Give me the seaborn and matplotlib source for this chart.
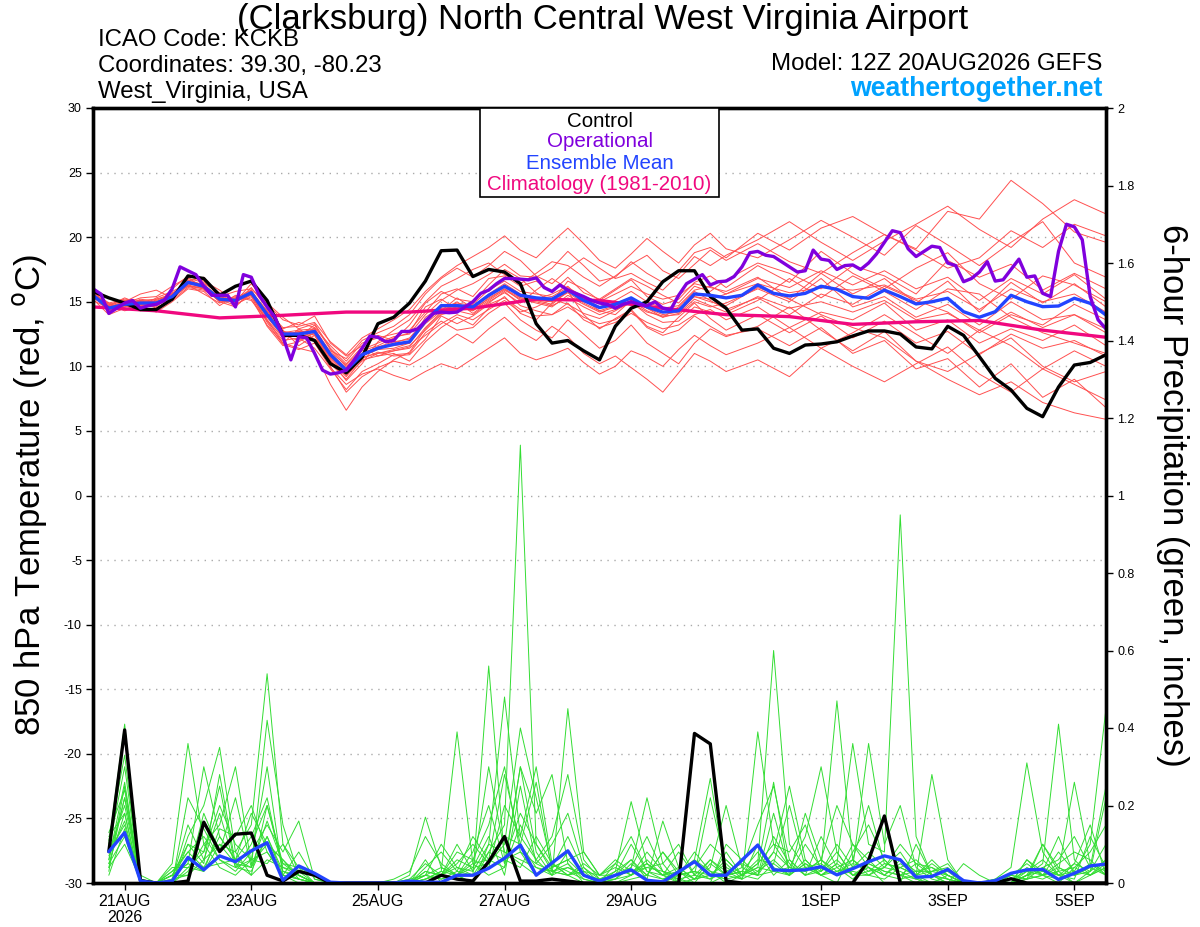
import numpy as np
import pandas as pd
import seaborn as sns
import matplotlib.pyplot as plt
from matplotlib.patches import Rectangle

# forecast hours from 12Z 20AUG2026
hours_6h = list(range(0, 385, 6))
hours_3h = list(range(0, 385, 3))
member_hours = list(range(0, 241, 6)) + list(range(252, 385, 12))
precip_hours = list(range(6, 385, 6))
clim_hours = list(range(0, 385, 24))

tick_hours = [12, 60, 108, 156, 204, 276, 324, 372]
tick_labels = ['21AUG\n2026', '23AUG', '25AUG', '27AUG', '29AUG', '1SEP', '3SEP', '5SEP']

# 850 hPa temperature (C)
control_t = [15.8, 15.3, 14.9, 14.4, 14.4, 15.2, 17.0, 16.8, 15.5, 16.2, 16.6, 15.1, 12.4, 12.4, 12.0, 10.2,
             9.5, 10.7, 13.3, 13.8, 14.9, 16.6, 18.95, 19.0, 16.95, 17.5, 17.3, 16.4, 13.3, 11.8, 12.0, 11.2,
             10.5, 13.1, 14.5, 15.0, 16.55, 17.4, 17.4, 15.4, 14.5, 12.8, 12.9, 11.4, 11.0, 11.65, 11.73, 11.9,
             12.35, 12.74, 12.74, 12.5, 11.5, 11.35, 13.1, 12.4, 10.75, 9.07, 8.17, 6.75, 6.1, 8.4, 10.1, 10.3, 10.9]
mean_t = [15.5, 14.5, 14.8, 14.9, 14.9, 15.4, 16.5, 16.2, 15.2, 15.1, 15.7, 14.0, 12.5, 12.5, 12.7, 10.9,
          9.7, 10.9, 11.4, 11.7, 11.9, 13.5, 14.7, 14.7, 14.6, 15.5, 16.2, 15.5, 15.3, 15.2, 15.9, 15.1,
          14.55, 14.8, 15.3, 14.6, 14.2, 14.3, 15.6, 15.5, 15.3, 15.5, 16.3, 15.65, 15.45, 15.65, 16.2, 15.96,
          15.4, 15.27, 15.9, 15.4, 14.83, 15.0, 15.27, 14.23, 13.8, 14.23, 15.5, 15.0, 14.62, 14.67, 15.27, 14.88, 13.97]
oper_t = [16.0, 15.6, 14.1, 14.5, 14.9, 15.1, 14.5, 14.7, 14.8, 15.1, 16.0, 17.7, 17.4, 17.1, 16.2, 15.5,
          15.5, 15.5, 14.6, 17.1, 16.9, 15.5, 14.6, 13.8, 12.3, 10.5, 12.3, 12.2, 11.0, 9.7, 9.4, 9.5,
          9.7, 10.5, 11.4, 12.35, 12.25, 11.9, 12.0, 12.7, 12.7, 12.9, 13.5, 14.1, 14.2, 14.15, 14.2, 14.6,
          15.0, 15.65, 15.9, 16.4, 16.8, 16.8, 16.75, 16.7, 16.85, 16.1, 15.8, 16.3, 15.9, 15.65, 15.4, 15.1,
          14.9, 14.8, 14.5, 14.8, 15.0, 14.8, 14.7, 15.0, 14.5, 14.4, 15.5, 16.4, 16.75, 17.1, 16.3, 16.55,
          16.6, 16.95, 17.7, 18.8, 18.9, 18.6, 18.5, 18.1, 17.7, 17.3, 17.4, 19.0, 18.3, 18.2, 17.5, 17.8,
          17.85, 17.5, 18.0, 18.7, 19.6, 20.5, 20.35, 19.1, 18.5, 18.9, 19.3, 19.2, 18.0, 17.8, 16.55, 16.8,
          17.3, 18.1, 16.6, 16.7, 17.5, 18.3, 16.9, 17.0, 15.65, 15.4, 18.9, 21.0, 20.8, 19.8, 15.4, 13.6, 12.9]
clim_t = [14.6, 14.3, 13.75, 13.95, 14.2, 14.2, 14.5, 15.2, 15.1, 14.5, 14.0, 13.85, 13.25, 13.45, 13.55, 12.8, 12.25]

temp_members = [
    [15.6, 14.2, 15.0, 15.6, 15.9, 15.3, 16.8, 16.5, 15.6, 14.9, 16.1, 14.5, 12.8, 11.6, 12.4, 10.5, 8.9, 10.2, 11.9, 12.8, 13.6,
     15.0, 16.2, 16.8, 17.5, 18.0, 17.1, 16.4, 17.2, 18.1, 17.8, 16.9, 16.2, 17.0, 17.9, 18.6, 17.4, 16.8, 17.9, 19.0, 18.2,
     19.5, 18.1, 17.2, 18.8, 20.2, 19.0, 17.6, 18.4, 20.5, 19.2, 21.0, 20.1],
    [15.4, 14.8, 14.3, 14.6, 14.2, 15.0, 16.0, 15.8, 14.7, 15.5, 15.2, 13.2, 11.8, 12.9, 13.3, 11.4, 10.2, 11.5, 10.8, 11.0, 10.4,
     11.9, 13.0, 13.8, 13.2, 14.5, 15.4, 14.1, 13.6, 14.9, 15.8, 14.0, 12.9, 13.7, 14.4, 13.1, 12.6, 13.8, 14.9, 13.7, 12.8,
     14.0, 12.6, 13.9, 12.2, 13.5, 11.8, 12.7, 10.9, 12.5, 11.4, 12.0, 10.8],
    [15.8, 14.9, 15.2, 15.1, 14.7, 16.0, 17.0, 16.6, 15.9, 15.0, 16.4, 14.8, 13.6, 13.2, 13.9, 11.8, 10.8, 11.6, 12.4, 12.0, 13.2,
     14.9, 15.8, 15.2, 15.0, 16.3, 17.5, 16.8, 15.7, 15.0, 16.6, 16.0, 15.1, 15.9, 16.7, 15.4, 14.8, 15.2, 16.5, 17.0, 16.1,
     17.8, 16.5, 18.9, 17.2, 16.0, 17.6, 18.8, 16.4, 15.2, 17.0, 16.3, 15.0],
    [15.2, 14.0, 14.5, 14.3, 15.2, 15.6, 16.3, 15.6, 14.9, 15.3, 15.5, 13.5, 12.0, 12.2, 11.4, 9.8, 8.2, 9.6, 10.2, 10.9, 11.0,
     12.6, 13.5, 12.8, 13.0, 14.1, 14.9, 13.6, 12.8, 12.2, 13.6, 12.5, 11.4, 12.0, 13.2, 11.8, 11.0, 10.2, 11.8, 12.9, 12.3,
     13.1, 14.6, 12.8, 11.2, 12.7, 10.4, 9.6, 11.0, 12.2, 10.0, 8.8, 9.6],
    [15.5, 14.6, 14.9, 15.3, 15.4, 16.2, 16.9, 16.0, 15.4, 15.8, 16.0, 14.9, 13.8, 12.9, 12.1, 11.2, 10.6, 12.0, 12.6, 13.1, 14.0,
     15.6, 16.8, 17.6, 16.9, 17.8, 18.9, 18.2, 17.0, 16.4, 17.5, 18.4, 17.6, 16.8, 17.2, 16.5, 15.9, 17.1, 18.5, 17.8, 18.6,
     19.8, 21.2, 19.6, 18.2, 19.7, 21.0, 22.4, 20.6, 19.2, 21.4, 22.9, 21.8],
    [15.9, 14.4, 14.7, 15.0, 14.5, 15.2, 16.6, 16.9, 15.5, 14.8, 15.4, 13.1, 11.6, 11.9, 12.6, 10.2, 9.0, 10.5, 10.8, 11.2, 11.5,
     13.0, 14.2, 15.0, 14.1, 15.0, 15.7, 14.9, 15.9, 16.8, 16.0, 15.2, 14.3, 14.0, 15.1, 14.5, 13.8, 14.6, 15.8, 15.1, 14.4,
     15.3, 14.0, 15.6, 14.8, 16.2, 15.1, 14.2, 12.6, 14.0, 13.2, 14.8, 13.6],
    [15.3, 14.7, 15.3, 14.8, 14.6, 15.7, 16.2, 16.1, 15.0, 14.6, 15.8, 14.2, 12.4, 12.0, 13.0, 10.0, 8.0, 9.2, 9.9, 10.4, 10.1,
     10.8, 11.6, 12.5, 11.8, 12.9, 13.8, 12.7, 12.0, 13.1, 12.3, 11.0, 10.2, 10.8, 9.9, 9.0, 8.0, 9.5, 11.0, 10.4, 9.6,
     10.5, 9.2, 11.4, 10.0, 8.8, 10.2, 11.5, 9.4, 8.0, 9.8, 8.6, 7.4],
    [15.7, 14.3, 14.6, 15.2, 15.0, 15.5, 16.7, 16.3, 15.3, 15.2, 15.6, 14.1, 12.9, 13.4, 13.0, 11.6, 10.4, 11.8, 12.2, 12.5, 12.8,
     14.2, 15.6, 16.0, 15.4, 16.8, 17.0, 16.2, 16.6, 15.8, 16.9, 15.7, 15.2, 16.0, 16.8, 16.2, 15.5, 14.9, 16.2, 15.8, 16.7,
     18.0, 17.2, 16.0, 17.8, 17.0, 15.6, 18.2, 16.9, 17.9, 15.9, 17.2, 16.0],
    [15.1, 14.5, 14.9, 14.4, 14.9, 15.1, 16.1, 15.9, 15.1, 15.4, 15.1, 13.6, 12.2, 12.6, 12.0, 10.8, 9.6, 10.6, 11.1, 10.8, 10.9,
     12.1, 13.9, 13.3, 13.9, 14.8, 15.3, 14.4, 13.9, 14.0, 14.9, 13.6, 13.0, 13.4, 14.1, 13.4, 12.9, 13.2, 14.0, 14.4, 13.6,
     14.6, 13.0, 14.2, 13.6, 14.9, 12.8, 13.6, 11.8, 12.9, 12.0, 13.2, 11.6],
    [15.6, 14.7, 15.1, 14.6, 15.3, 15.8, 16.4, 16.4, 15.7, 15.0, 15.9, 14.0, 12.6, 12.8, 12.9, 11.0, 9.9, 11.2, 11.6, 12.2, 12.6,
     14.6, 15.2, 14.4, 14.8, 15.9, 16.6, 15.8, 15.6, 15.4, 16.1, 15.4, 15.0, 15.6, 16.2, 15.6, 15.2, 15.5, 16.4, 16.1, 15.8,
     16.9, 15.2, 17.2, 15.6, 16.8, 14.9, 16.6, 14.2, 16.5, 14.9, 16.4, 14.6],
    [15.4, 14.9, 14.4, 14.9, 15.1, 15.6, 16.6, 16.0, 15.2, 14.7, 15.6, 13.8, 12.3, 12.7, 12.4, 10.4, 9.2, 10.8, 11.3, 11.4, 11.8,
     13.3, 14.3, 15.3, 14.5, 15.2, 16.0, 15.1, 15.0, 14.7, 15.3, 14.6, 14.0, 14.4, 14.9, 14.2, 13.9, 14.0, 15.0, 14.6, 14.9,
     16.0, 15.0, 16.8, 14.6, 15.4, 13.8, 14.8, 13.2, 15.0, 13.6, 14.0, 12.9],
    [15.8, 14.6, 15.0, 15.0, 14.8, 15.4, 16.5, 16.2, 15.1, 15.2, 15.7, 14.3, 12.7, 12.3, 13.2, 11.3, 10.0, 10.9, 11.5, 11.6, 11.8,
     13.8, 14.6, 14.9, 14.7, 15.4, 16.3, 15.3, 15.2, 15.6, 16.2, 15.0, 14.6, 14.9, 15.2, 14.7, 14.4, 14.5, 15.4, 15.2, 15.6,
     16.4, 15.7, 16.1, 15.9, 16.3, 15.2, 15.8, 14.4, 16.0, 15.0, 15.6, 14.2],
    [15.5, 14.4, 14.8, 15.1, 15.0, 15.3, 16.4, 16.3, 15.4, 15.0, 15.8, 14.0, 12.5, 12.6, 12.9, 11.1, 10.1, 11.3, 11.8, 12.3, 12.5,
     14.0, 15.1, 15.9, 16.4, 17.1, 17.9, 17.0, 16.9, 17.6, 18.9, 17.8, 16.6, 16.9, 18.1, 17.2, 16.5, 17.4, 18.8, 19.2, 18.4,
     20.3, 19.0, 20.7, 21.6, 20.2, 19.1, 22.0, 21.4, 24.4, 22.6, 20.4, 19.6],
    [15.3, 14.6, 14.7, 14.7, 14.8, 15.5, 16.6, 16.1, 15.0, 15.1, 15.6, 13.9, 12.4, 12.3, 12.5, 10.7, 9.4, 10.7, 11.0, 11.3, 11.6,
     12.8, 14.0, 14.3, 14.0, 14.9, 15.8, 14.7, 14.3, 14.0, 14.6, 13.8, 13.3, 13.6, 14.3, 13.0, 12.4, 12.8, 13.9, 13.1, 12.4,
     12.9, 11.6, 13.0, 11.0, 12.0, 9.8, 10.6, 8.4, 10.2, 7.6, 9.0, 6.8],
    [15.6, 14.8, 15.1, 15.0, 15.0, 15.6, 16.5, 16.2, 15.3, 15.2, 15.8, 14.3, 13.0, 13.1, 13.4, 11.9, 10.9, 12.2, 12.9, 13.6, 14.4,
     15.8, 16.9, 17.8, 18.5, 19.2, 20.1, 19.0, 18.4, 19.6, 20.7, 19.5, 18.2, 17.6, 18.7, 19.9, 18.9, 18.0, 19.4, 20.3, 19.1,
     18.4, 19.8, 21.3, 20.0, 18.6, 20.9, 19.4, 17.8, 19.6, 21.2, 18.0, 16.9],
    [15.4, 14.5, 14.6, 14.8, 14.9, 15.2, 16.3, 16.0, 15.1, 15.0, 15.5, 13.4, 11.7, 11.3, 11.8, 9.9, 8.6, 9.4, 9.8, 9.3, 8.9,
     9.6, 10.2, 9.8, 10.6, 11.4, 12.2, 11.0, 10.5, 10.9, 11.4, 10.3, 9.4, 10.0, 11.2, 10.7, 10.0, 11.3, 12.4, 11.6, 10.9,
     11.8, 13.0, 11.4, 12.6, 14.0, 12.5, 11.0, 12.8, 11.6, 9.8, 11.2, 10.0],
    [15.7, 14.5, 14.9, 15.1, 15.2, 15.4, 16.4, 16.3, 15.2, 15.1, 15.7, 14.1, 12.6, 12.4, 12.8, 10.8, 9.6, 10.8, 11.4, 11.8, 12.2,
     13.6, 14.6, 14.8, 14.4, 15.6, 16.4, 15.6, 15.1, 14.8, 15.8, 15.3, 14.6, 15.1, 15.8, 15.0, 14.5, 14.7, 15.9, 16.2, 15.6,
     16.8, 16.1, 17.4, 16.3, 17.4, 16.0, 16.9, 15.1, 16.8, 15.6, 17.1, 15.2],
    [15.5, 14.6, 14.8, 14.9, 15.0, 15.4, 16.4, 16.1, 15.2, 15.0, 15.6, 13.6, 11.8, 11.4, 11.1, 8.6, 6.6, 8.4, 9.6, 10.5, 11.1,
     12.9, 14.1, 14.6, 14.3, 15.1, 15.9, 15.2, 14.9, 14.6, 15.5, 14.8, 14.2, 14.6, 15.1, 14.3, 13.8, 14.1, 15.2, 14.7, 14.2,
     15.4, 14.5, 15.0, 14.2, 15.1, 13.6, 14.1, 12.8, 14.2, 13.0, 14.0, 12.6],
    [15.4, 14.3, 14.7, 14.9, 14.7, 15.3, 16.2, 16.0, 15.1, 15.3, 15.9, 14.0, 12.4, 12.7, 12.6, 10.6, 9.3, 10.4, 11.0, 11.2, 11.4,
     12.4, 13.3, 14.0, 13.6, 14.4, 15.1, 14.2, 14.6, 15.2, 14.8, 14.1, 13.7, 14.3, 15.0, 14.0, 13.4, 13.5, 14.6, 14.2, 14.0,
     15.1, 16.8, 15.3, 17.0, 15.8, 14.4, 16.0, 15.6, 13.8, 12.6, 11.8, 11.0],
    [15.6, 14.6, 15.0, 14.8, 14.9, 15.5, 16.6, 16.3, 15.3, 15.0, 15.7, 14.1, 12.7, 12.5, 12.6, 10.9, 9.8, 11.0, 11.5, 11.9, 12.1,
     13.4, 14.5, 14.6, 14.3, 15.3, 16.0, 15.3, 15.1, 15.0, 15.7, 14.9, 14.3, 14.7, 15.3, 14.5, 14.0, 14.2, 15.4, 15.0, 14.7,
     16.1, 15.2, 14.0, 13.0, 12.2, 10.4, 9.0, 7.8, 8.8, 7.2, 6.4, 5.9],
]

# 6-hour precipitation (inches)
control_p = [.081, .395, .006, 0, 0, .005, .157, .081, .126, .129, .02, .005, .03, .02, 0, 0,
             0, 0, 0, 0, 0, .02, .01, .005, .055, .12, .005, .005, .01, .005, 0, 0,
             0, 0, 0, 0, 0, .386, .359, .005, 0, 0, 0, 0, 0, 0, 0, 0,
             .059, .173, 0, 0, 0, 0, 0, 0, 0, .011, 0, 0, 0, 0, 0, 0]
mean_p = [.081, .13, .005, 0, .005, .066, .034, .07, .055, .083, .104, .007, .044, .025, .002, 0,
          0, 0, 0, .005, .002, .002, .02, .02, .038, .064, .098, .02, .052, .083, .02, .005,
          .02, .034, .007, .003, .029, .055, .02, .02, .059, .098, .034, .032, .034, .042, .021, .037,
          .055, .07, .06, .015, .017, .035, .006, 0, .006, .025, .034, .035, .009, .025, .044, .049]
precip_members = [
    [.10, .41, 0, 0, .02, .08, .12, .06, .04, .10, .20, .05, .02, 0, 0, 0, 0, 0, .01, .03, .12, .05, .02, 0,
     .08, .15, 1.13, .10, .03, .05, 0, 0, .02, .06, .01, 0, .02, .08, .03, 0, .02, .05, .60, .10, .04, .02, 0, .08,
     .15, .06, .02, 0, .03, .05, 0, 0, 0, 0, .06, .02, 0, .04, .08, .15],
    [.06, .26, 0, 0, .05, .36, .10, .04, .02, .06, .08, .02, 0, 0, 0, 0, 0, 0, 0, 0, .06, 0, .02, .08,
     .20, .05, .30, .08, .02, .04, .02, 0, .01, .04, .22, .05, 0, 0, .05, .02, .01, .03, .08, .25, .06, .02, .05, .36,
     .10, .08, .95, .12, .02, 0, .05, .02, 0, .02, .01, .10, .03, 0, .02, .05],
    [.04, .22, .02, 0, 0, .12, .20, .35, .08, .15, .54, .10, .04, .02, 0, 0, 0, 0, 0, 0, .02, .10, .04, .02,
     .56, .06, .04, .12, .05, .02, 0, 0, 0, .01, .02, .08, .03, 0, 0, .10, .06, .02, .03, .04, .12, .30, .08, .02,
     .04, 0, 0, .10, .02, 0, 0, 0, .01, .04, .31, .08, .02, 0, .03, .10],
    [.12, .18, 0, 0, .02, .02, .06, .10, .05, .04, .42, .15, .02, 0, 0, 0, 0, 0, 0, 0, .01, .03, .39, .05,
     .06, .28, .10, .04, .02, .45, .08, .02, .02, .10, .03, .02, .01, 0, 0, .02, .03, .08, .02, .06, .02, .04, .47, .06,
     .02, .01, .04, .02, 0, 0, 0, 0, 0, 0, .02, .05, .41, .06, .02, .04],
    [.05, .12, 0, 0, 0, .04, .08, .20, .10, .06, .30, .02, .08, .01, 0, 0, 0, 0, 0, .02, .17, .04, .02, 0,
     .10, .48, .12, .30, .05, .02, .03, 0, .05, .02, .08, .03, 0, .04, .10, .06, .02, .01, .05, .02, .10, .04, .02, .06,
     .20, .05, .04, .02, .28, .06, 0, 0, 0, 0, .01, .02, .03, .26, .05, .02],
    [.08, .20, .01, 0, .03, .06, .04, .12, .06, .18, .10, .06, .02, 0, 0, 0, 0, 0, 0, 0, 0, .02, .05, .10,
     .05, .10, .40, .22, .04, .06, .02, .01, .03, .21, .05, .02, 0, .01, .04, .20, .04, .15, .25, .06, .02, .12, .04, .01,
     .05, .03, .02, .01, 0, .02, 0, 0, 0, 0, .04, .02, .08, .03, .10, .45],
    [.03, .25, 0, 0, .01, .02, .18, .08, .22, .04, .12, .03, .01, 0, 0, 0, 0, 0, 0, 0, .03, .02, .06, .04,
     .12, .02, .25, .05, .10, .18, .04, 0, .02, .03, .01, .16, .04, .01, .02, .05, .01, .39, .10, .04, .03, .06, .20, .10,
     .06, .02, .01, .02, .05, .02, 0, 0, 0, .01, .03, .06, .02, .01, .12, .04],
    [.07, .16, 0, 0, .02, .10, .05, .28, .05, .02, .20, .04, .03, 0, 0, 0, 0, 0, 0, .01, .05, .02, .10, .03,
     .30, .08, .06, .04, .03, .02, .05, .02, .04, .02, .06, .02, .08, .02, .01, .03, .01, .10, .04, .02, .18, .06, .03, .04,
     .08, .04, .10, .05, .02, .01, 0, 0, 0, 0, .01, .02, .05, .08, .06, .02],
    [.09, .30, 0, 0, 0, .22, .14, .06, .03, .08, .15, .08, .16, .01, 0, 0, 0, 0, 0, 0, .02, .04, .02, .06,
     .04, .20, .12, .06, .02, .08, .02, 0, .01, .05, .02, .01, .03, .06, .27, .02, .03, .02, .12, .05, .02, .03, .10, .04,
     .36, .10, .20, .04, .01, 0, 0, 0, .01, 0, .02, .04, .02, .05, .03, .22],
    [.02, .14, 0, 0, .04, .04, .03, .14, .12, .20, .08, .02, .01, 0, 0, 0, 0, 0, 0, 0, .04, .08, .03, .02,
     .08, .06, .18, .10, .04, .06, .08, .02, .06, .03, .04, .05, .10, .02, .22, .04, .02, .04, .26, .02, .06, .02, .05, .02,
     .03, .06, .02, .05, .04, .01, 0, 0, 0, .02, .05, .02, .04, .02, .03, .06],
    [.06, .22, 0, 0, .01, .15, .06, .18, .04, .06, .05, .10, .02, 0, 0, 0, 0, 0, 0, 0, 0, 0, .02, .05,
     .02, .04, .30, .18, .28, .05, .01, 0, 0, .02, .05, .02, .04, .01, .02, .01, .02, .06, .05, .20, .04, .05, .02, .10,
     .04, .02, .05, .02, .06, .02, 0, 0, 0, 0, .02, .10, .04, .02, .05, .03],
    [.11, .33, 0, 0, .02, .05, .30, .12, .06, .04, .16, .05, .04, 0, 0, 0, 0, 0, 0, 0, .01, .03, .02, .04,
     .05, .12, .10, .26, .03, .04, .02, .01, .02, .04, .12, .03, .01, .02, .06, .02, .04, .02, .18, .03, .04, .02, .04, .06,
     .03, .04, .08, .02, .03, .04, 0, 0, 0, 0, .06, .03, .12, .02, .04, .02],
    [.04, .10, .01, 0, 0, .03, .10, .15, .30, .05, .10, .06, .01, 0, 0, 0, 0, 0, 0, 0, .03, .02, .08, .06,
     .15, .30, .08, .02, .05, .03, .01, 0, .03, .06, .02, .08, .02, .03, .01, .08, .02, .05, .10, .08, .15, .03, .08, .02,
     .02, .04, .03, .01, .02, .03, 0, 0, 0, .02, .01, .04, .06, .12, .04, .25],
    [.13, .24, 0, 0, .03, .08, .04, .05, .06, .12, .22, .03, .02, 0, 0, 0, 0, 0, 0, .01, .02, .01, .03, .12,
     .06, .04, .15, .06, .12, .28, .06, .01, .02, .03, .05, .02, .03, .01, .06, .03, .05, .03, .06, .02, .05, .02, .03, .05,
     .04, .02, .06, .03, .03, .02, 0, 0, 0, 0, .02, .01, .03, .04, .02, .06],
    [.05, .18, 0, 0, 0, .10, .08, .25, .04, .03, .12, .02, .01, 0, 0, 0, 0, 0, 0, 0, .01, .02, .04, .03,
     .10, .08, .05, .02, .04, .12, .03, .02, .05, .12, .03, .01, .02, .06, .03, .02, .03, .02, .08, .04, .03, .06, .02, .03,
     .02, .05, .04, .06, .02, .01, 0, 0, 0, 0, .03, .02, .01, .05, .15, .02],
    [.08, .15, 0, 0, .02, .05, .03, .10, .08, .02, .06, .04, .02, 0, 0, 0, 0, 0, 0, 0, .02, .01, .02, .02,
     .04, .06, .08, .05, .03, .02, .04, .01, .01, .02, .04, .03, .02, .03, .02, .06, .02, .04, .03, .02, .05, .03, .06, .02,
     .05, .03, .02, .03, .04, .02, 0, 0, 0, 0, .02, .03, .02, .03, .02, .04],
]

for m in temp_members:
    assert len(m) == len(member_hours), len(m)
for m in precip_members:
    assert len(m) == len(precip_hours), len(m)

# long form tables for the spaghetti
tm = pd.DataFrame([(i, h, v) for i, m in enumerate(temp_members) for h, v in zip(member_hours, m)],
                  columns=['member', 'hour', 'temp'])
pm = pd.DataFrame([(i, h, v) for i, m in enumerate(precip_members) for h, v in zip(precip_hours, m)],
                  columns=['member', 'hour', 'precip'])

sns.set_style('white')
plt.rcParams['font.family'] = ['Liberation Sans', 'DejaVu Sans']
plt.rcParams['text.color'] = 'black'
plt.rcParams['xtick.color'] = 'black'
plt.rcParams['ytick.color'] = 'black'

fig = plt.figure(figsize=(12, 9.27), dpi=100)
ax = fig.add_axes([93 / 1200, 44 / 927, 1013 / 1200, 775 / 927])
ax2 = ax.twinx()

# temperature
sns.lineplot(data=tm, x='hour', y='temp', units='member', estimator=None, color='#ff5050',
             lw=0.7, ax=ax, legend=False)
sns.lineplot(x=clim_hours, y=clim_t, color='#f0087f', lw=2.4, ax=ax)
sns.lineplot(x=hours_6h, y=control_t, color='black', lw=2.4, ax=ax)
sns.lineplot(x=hours_6h, y=mean_t, color='#2244ff', lw=2.4, ax=ax)
sns.lineplot(x=hours_3h, y=oper_t, color='#8000dd', lw=2.4, ax=ax)

# precipitation
sns.lineplot(data=pm, x='hour', y='precip', units='member', estimator=None, color='#33dd33',
             lw=0.7, ax=ax2, legend=False)
sns.lineplot(x=precip_hours, y=control_p, color='black', lw=2.4, ax=ax2)
sns.lineplot(x=precip_hours, y=mean_p, color='#2244ff', lw=2.4, ax=ax2)

ax.set_xlim(0, 384)
ax.set_ylim(-30, 30)
ax2.set_ylim(0, 2)
ax.set_yticks(range(-30, 31, 5))
ax.set_yticklabels([str(v) for v in range(-30, 31, 5)], fontsize=9)
ax2.set_yticks([i / 5 for i in range(11)])
ax2.set_yticklabels(['%g' % (i / 5) for i in range(11)], fontsize=9)
ax.set_xticks(tick_hours)
ax.set_xticklabels(tick_labels, fontsize=11.5, linespacing=1.1)
ax.set_xlabel('')
ax.set_ylabel('')
ax2.set_ylabel('')
ax.yaxis.grid(True, linestyle=(0, (1, 4)), color='#aaaaaa', lw=1)
ax.xaxis.grid(False)
ax2.grid(False)
ax.tick_params(axis='both', direction='out', length=5, width=1, pad=3, left=True, bottom=True)
ax2.tick_params(axis='y', direction='out', length=5, width=1, pad=3, right=True)
for a in (ax, ax2):
    for s in a.spines.values():
        s.set_linewidth(2.4)
        s.set_color('black')

# legend box
ax2.add_patch(Rectangle((0.382, 0.885), 0.236, 0.115, transform=ax2.transAxes,
                        facecolor='white', edgecolor='black', lw=1.2, zorder=5))
leg_names = ['Control', 'Operational', 'Ensemble Mean', 'Climatology (1981-2010)']
leg_colors = ['black', '#8000dd', '#2244ff', '#f0087f']
leg_y = [0.983, 0.957, 0.929, 0.901]
for name, c, y in zip(leg_names, leg_colors, leg_y):
    ax2.text(0.5, y, name, color=c, fontsize=14.8, ha='center', va='center',
             transform=ax2.transAxes, zorder=6)

# header
fig.text(0.502, 1 - 19 / 927, '(Clarksburg) North Central West Virginia Airport',
         ha='center', va='center', fontsize=25)
fig.text(98 / 1200, 1 - 40 / 927, 'ICAO Code: KCKB', ha='left', va='center', fontsize=17.3)
fig.text(98 / 1200, 1 - 66 / 927, 'Coordinates: 39.30, -80.23', ha='left', va='center', fontsize=17.3)
fig.text(98 / 1200, 1 - 92 / 927, 'West_Virginia, USA', ha='left', va='center', fontsize=17.3)
fig.text(1102 / 1200, 1 - 64 / 927, 'Model: 12Z 20AUG2026 GEFS', ha='right', va='center', fontsize=17.3)
fig.text(1102 / 1200, 1 - 89 / 927, 'weathertogether.net', ha='right', va='center', fontsize=19.2,
         fontweight='bold', color='#00a2ff')
fig.text(30 / 1200, 1 - 495 / 927, '850 hPa Temperature (red, $^\\mathrm{o}$C)', rotation=90,
         ha='center', va='center', fontsize=25)
fig.text(1172 / 1200, 1 - 495 / 927, '6-hour Precipitation (green, inches)', rotation=270,
         ha='center', va='center', fontsize=25)

fig.savefig('out.png', dpi=100)
